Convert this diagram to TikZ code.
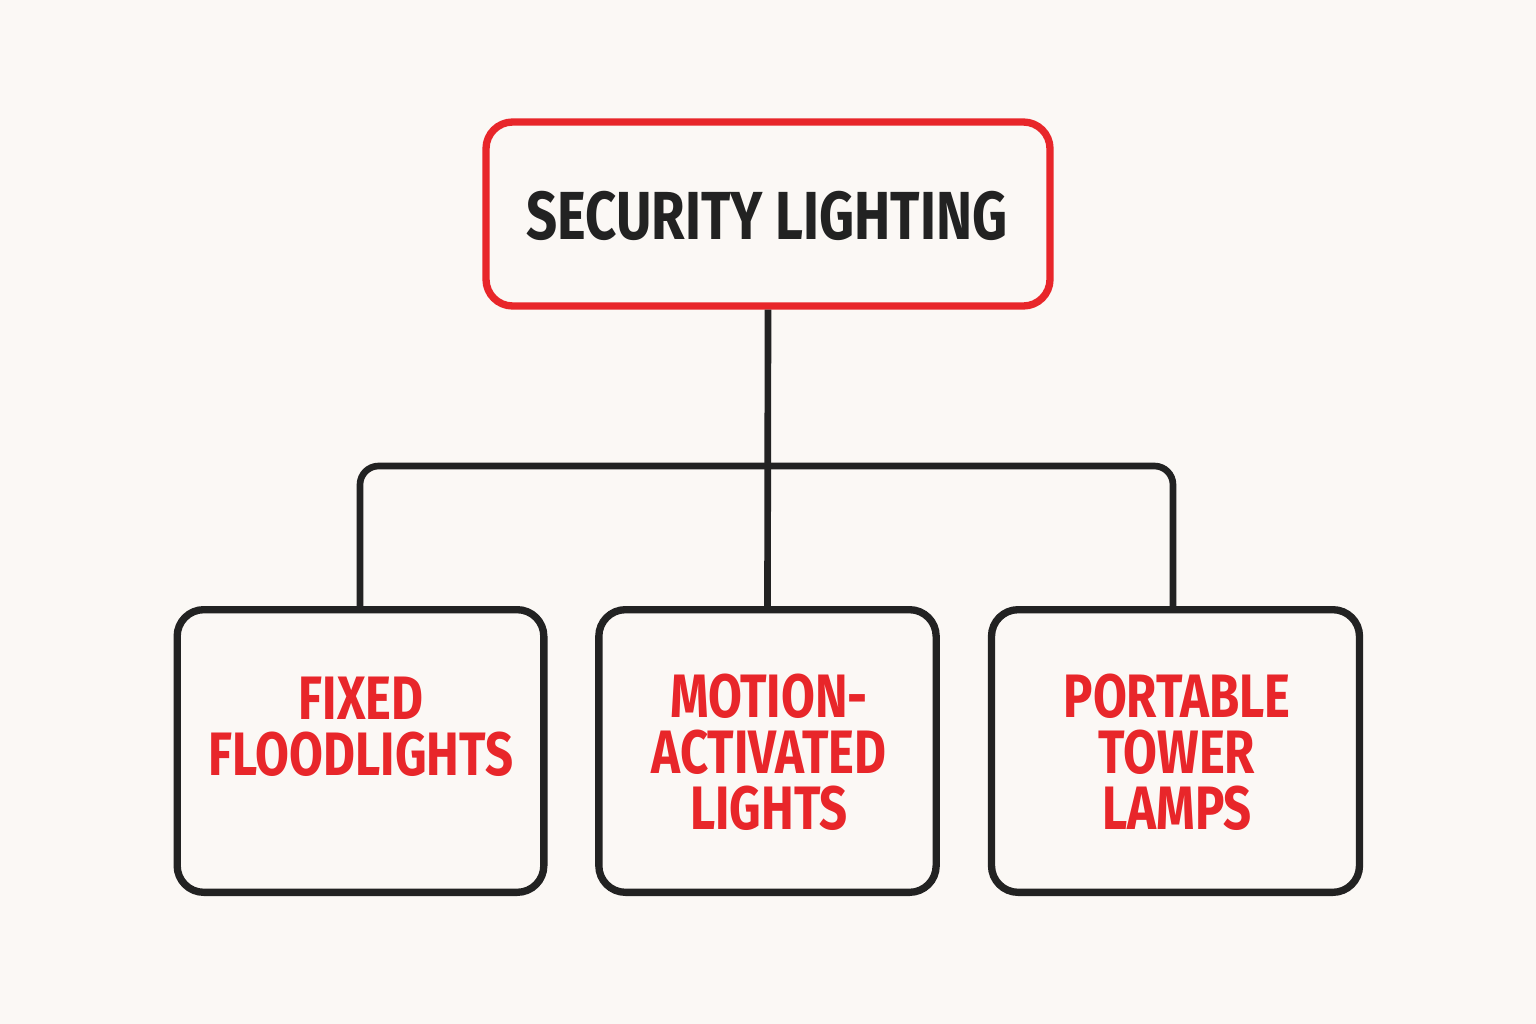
\documentclass[tikz,border=0pt]{standalone}
\usepackage{fontspec}
\newfontfamily\cond[FakeStretch=0.8]{Fira Sans}
\definecolor{bg}{HTML}{FBF8F5}
\definecolor{ink}{HTML}{222222}
\definecolor{rd}{HTML}{E8262A}
\begin{document}
\begin{tikzpicture}[x=0.75pt,y=-0.75pt,
  box/.style={draw=ink,line width=5.5pt,rounded corners=20pt,inner sep=0pt},
  lbl/.style={text=rd,font=\cond\bfseries\fontsize{46}{42}\selectfont,align=center},
  conn/.style={draw=ink,line width=5pt,rounded corners=14pt}]
\fill[bg] (0,0) rectangle (1536,1024);
\useasboundingbox (0,0) rectangle (1536,1024);
\node[box,draw=rd,minimum width=423pt,minimum height=138pt] (top) at (768,214) {};
\node[text=ink,font=\cond\bfseries\fontsize{51}{60}\selectfont] (toptxt) at (767,216) {SECURITY LIGHTING};
\node[box,minimum width=275pt,minimum height=212pt] (b1) at (360.5,751) {};
\node[box,minimum width=253pt,minimum height=212pt] (b2) at (767.5,751) {};
\node[box,minimum width=276pt,minimum height=212pt] (b3) at (1175.5,751) {};
\node[lbl] (t1) at (361,727) {FIXED\\FLOODLIGHTS};
\node[lbl] (t2) at (769,752) {MOTION-\\ACTIVATED\\LIGHTS};
\node[lbl] (t3) at (1177,752) {PORTABLE\\TOWER\\LAMPS};
\draw[conn] (top.south) -- (b2.north);
\draw[conn] (b1.north -| 360,0) -- (360,466) -- (1173,466) -- (b3.north -| 1173,0);
\end{tikzpicture}
\end{document}
